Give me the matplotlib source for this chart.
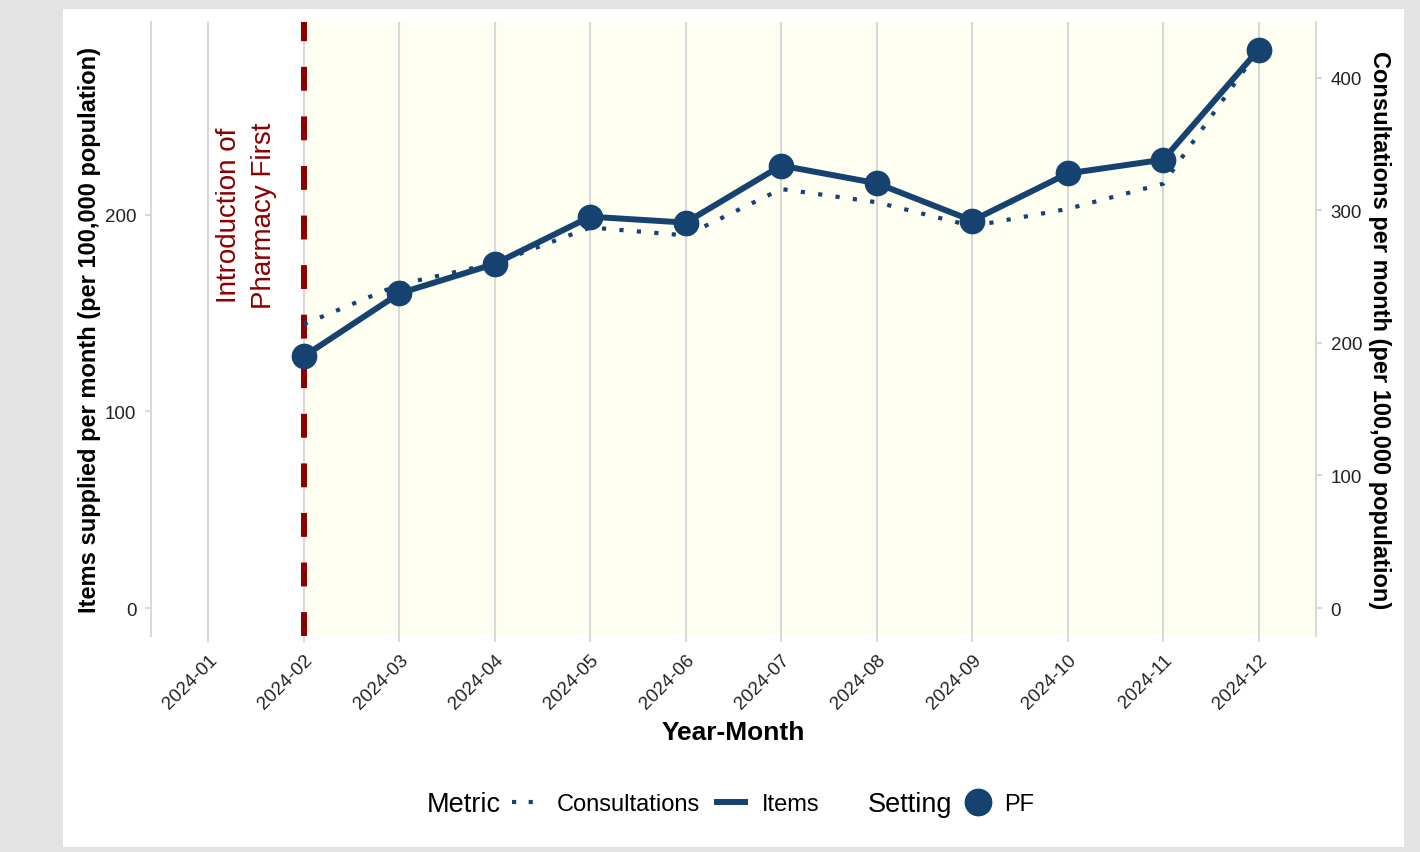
import matplotlib
matplotlib.use("Agg")
import matplotlib.pyplot as plt
from matplotlib.lines import Line2D
from matplotlib.patches import Rectangle

# ---------------- data ----------------
months = ["2024-01", "2024-02", "2024-03", "2024-04", "2024-05", "2024-06",
          "2024-07", "2024-08", "2024-09", "2024-10", "2024-11", "2024-12"]
data_months = ["2024-02", "2024-03", "2024-04", "2024-05", "2024-06", "2024-07",
               "2024-08", "2024-09", "2024-10", "2024-11", "2024-12"]
items = [128, 160, 175, 199, 196, 225, 216, 197, 221, 228, 284]
consultations = [214, 244, 260, 287, 281, 316, 306, 288, 301, 320, 421]
left_ticks = [0, 100, 200]
right_ticks = [0, 100, 200, 300, 400]
intro_month = "2024-02"
sec_scale = 1.483

# ---------------- style ----------------
plt.rcParams['font.family'] = ['Liberation Sans', 'DejaVu Sans']
NAVY = '#15426E'
RED = '#8B0000'
GRID = '#d9d9d9'
SHADE = '#FEFEF1'
TXT = '#222222'

W, H = 1420, 853
fig = plt.figure(figsize=(W / 100, H / 100), dpi=100)
fig.patch.set_facecolor('#e3e3e3')
fig.patches.append(Rectangle((63 / W, 1 - 848 / H), (1404 - 63) / W, (848 - 10) / H,
                             transform=fig.transFigure, facecolor='white',
                             edgecolor='none', zorder=-10))

ax = fig.add_axes([151 / W, 1 - 637 / H, (1316 - 151) / W, (637 - 23) / H])
ax.set_facecolor('white')
ax2 = ax.twinx()

x_all = list(range(len(months)))
x_data = [months.index(m) for m in data_months]
x_intro = months.index(intro_month)

ax.set_xlim(-0.6, len(months) - 0.4)
ylim = (-14.2, 298)
ax.set_ylim(*ylim)
ax2.set_ylim(ylim[0] * sec_scale, ylim[1] * sec_scale)

# shading after intervention
ax.axvspan(x_intro, ax.get_xlim()[1], color=SHADE, zorder=0.2, lw=0)
ax.set_axisbelow(True)
ax.grid(axis='x', color=GRID, lw=1.5)
ax.grid(axis='y', visible=False)

# intervention line
ax.axvline(x_intro, color=RED, lw=4.3, dashes=(4, 4.3), zorder=1)
ax.text(x_intro - 0.6, 200, "Introduction of\nPharmacy First", rotation=90,
        color=RED, fontsize=20, ha='center', va='center', multialignment='center',
        linespacing=1.45, zorder=3)

# consultations (secondary axis scale), drawn beneath items
ax.plot(x_data, consultations, color=NAVY, lw=3, linestyle=(0, (1, 3.2)),
        transform=ax2.transData, zorder=2)
ax.plot(x_data, items, color=NAVY, lw=4.3, marker='o', markersize=17.5,
        solid_capstyle='butt', zorder=4)

# ticks / axes
ax.set_xticks(x_all)
ax.set_xticklabels(months, rotation=45, ha='right', rotation_mode='anchor',
                   fontsize=13.5, color=TXT)
ax.tick_params(axis='x', length=4.5, width=1.5, color=GRID, pad=6)
ax.set_yticks(left_ticks)
ax.tick_params(axis='y', length=4.5, width=1.5, color=GRID, labelsize=13.5,
               labelcolor=TXT, pad=6)
ax2.set_yticks(right_ticks)
ax2.tick_params(axis='y', length=4.5, width=1.5, color=GRID, labelsize=13.5,
                labelcolor=TXT, pad=6)

for a in (ax, ax2):
    for s in ('top', 'bottom'):
        a.spines[s].set_visible(False)
ax.spines['right'].set_visible(False)
ax2.spines['left'].set_visible(False)
ax.spines['left'].set_color(GRID)
ax.spines['left'].set_linewidth(1.5)
ax2.spines['right'].set_color(GRID)
ax2.spines['right'].set_linewidth(1.5)

ax.set_ylabel("Items supplied per month (per 100,000 population)",
              fontsize=17, fontweight='bold', color='black', labelpad=3)
ax2.set_ylabel("Consultations per month (per 100,000 population)",
               fontsize=17, fontweight='bold', color='black', rotation=-90,
               va='bottom', labelpad=4)
ax.set_xlabel("Year-Month", fontsize=19, fontweight='bold', color='black',
              labelpad=6)

# ---------------- legend ----------------
ly = 1 - 805 / H
fig.text(427 / W, ly, "Metric", fontsize=19.5, va='center', ha='left', color='black')
h_cons = Line2D([], [], color=NAVY, lw=3, linestyle=(0, (1, 3)))
h_items = Line2D([], [], color=NAVY, lw=4.3)
leg1 = fig.legend([h_cons, h_items], ["Consultations", "Items"], ncol=2,
                  loc='center left', bbox_to_anchor=(512 / W, ly), frameon=False,
                  fontsize=17, handlelength=1.2, handletextpad=0.7,
                  columnspacing=0.7, borderpad=0, borderaxespad=0)
fig.text(868 / W, ly, "Setting", fontsize=19.5, va='center', ha='left', color='black')
h_pf = Line2D([], [], color=NAVY, lw=4.3, marker='o', markersize=19, linestyle='none')
leg2 = fig.legend([h_pf], ["PF"], loc='center left', bbox_to_anchor=(964 / W, ly),
                  frameon=False, fontsize=17, handlelength=1.2, handletextpad=0.5,
                  borderpad=0, borderaxespad=0)

fig.savefig("out.png", dpi=100, facecolor=fig.get_facecolor())
